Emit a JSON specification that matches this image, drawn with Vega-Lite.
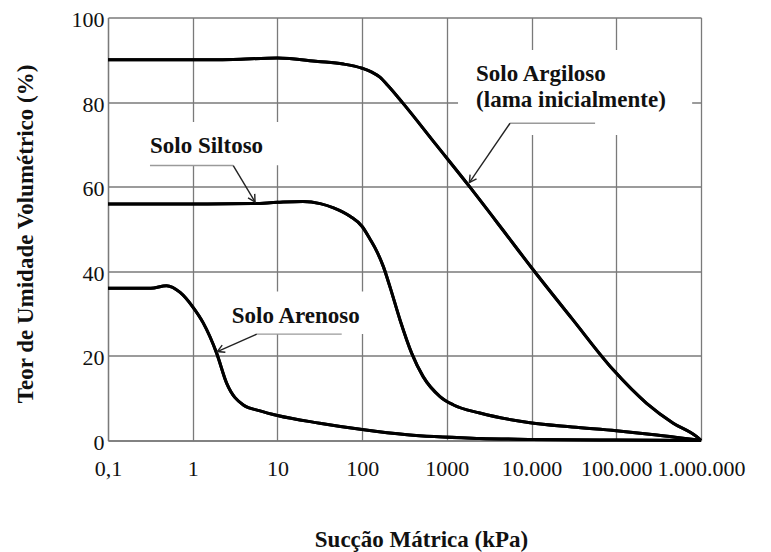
{
  "$schema": "https://vega.github.io/schema/vega-lite/v6.json",
  "autosize": {"type": "none"},
  "padding": {"left": 108, "top": 17.5, "right": 70, "bottom": 111.5},
  "width": 593,
  "height": 423,
  "background": "white",
  "config": {
    "view": {"stroke": null},
    "axis": {
      "labelFont": "Liberation Serif",
      "titleFont": "Liberation Serif",
      "labelColor": "#111",
      "titleColor": "#111",
      "labelFontSize": 22,
      "titleFontSize": 23,
      "titleFontWeight": "bold",
      "gridColor": "#7a7a7a",
      "gridWidth": 1.3,
      "gridOpacity": 1,
      "domainColor": "#7a7a7a",
      "domainWidth": 1.3,
      "ticks": false,
      "tickSize": 0
    }
  },
  "datasets": {
    "curves": [
      {"solo": "Argiloso", "s": 0.1, "t": 90},
      {"solo": "Argiloso", "s": 1, "t": 90},
      {"solo": "Argiloso", "s": 3, "t": 90.1},
      {"solo": "Argiloso", "s": 10, "t": 90.4},
      {"solo": "Argiloso", "s": 30, "t": 89.6},
      {"solo": "Argiloso", "s": 60, "t": 89.0},
      {"solo": "Argiloso", "s": 100, "t": 88.0},
      {"solo": "Argiloso", "s": 130, "t": 87.1},
      {"solo": "Argiloso", "s": 162, "t": 85.9},
      {"solo": "Argiloso", "s": 200, "t": 84.0},
      {"solo": "Argiloso", "s": 296, "t": 80.0},
      {"solo": "Argiloso", "s": 741, "t": 70.0},
      {"solo": "Argiloso", "s": 1853, "t": 60.0},
      {"solo": "Argiloso", "s": 4490, "t": 50.0},
      {"solo": "Argiloso", "s": 10500, "t": 40.3},
      {"solo": "Argiloso", "s": 30000, "t": 28.8},
      {"solo": "Argiloso", "s": 92000, "t": 16.7},
      {"solo": "Argiloso", "s": 228000, "t": 8.8},
      {"solo": "Argiloso", "s": 470000, "t": 4.1},
      {"solo": "Argiloso", "s": 890000, "t": 0.9},
      {"solo": "Argiloso", "s": 1000000, "t": 0},
      {"solo": "Siltoso", "s": 0.1, "t": 55.9},
      {"solo": "Siltoso", "s": 1, "t": 55.9},
      {"solo": "Siltoso", "s": 5, "t": 56.0},
      {"solo": "Siltoso", "s": 10, "t": 56.3},
      {"solo": "Siltoso", "s": 20, "t": 56.5},
      {"solo": "Siltoso", "s": 32, "t": 56.0},
      {"solo": "Siltoso", "s": 46, "t": 55.0},
      {"solo": "Siltoso", "s": 72, "t": 53.0},
      {"solo": "Siltoso", "s": 100, "t": 50.6},
      {"solo": "Siltoso", "s": 124, "t": 47.6},
      {"solo": "Siltoso", "s": 150, "t": 44.6},
      {"solo": "Siltoso", "s": 178, "t": 41.1},
      {"solo": "Siltoso", "s": 214, "t": 36.2},
      {"solo": "Siltoso", "s": 280, "t": 28.5},
      {"solo": "Siltoso", "s": 385, "t": 20.6},
      {"solo": "Siltoso", "s": 525, "t": 15.1},
      {"solo": "Siltoso", "s": 830, "t": 10.4},
      {"solo": "Siltoso", "s": 1200, "t": 8.4},
      {"solo": "Siltoso", "s": 2450, "t": 6.5},
      {"solo": "Siltoso", "s": 9600, "t": 4.2},
      {"solo": "Siltoso", "s": 30000, "t": 3.2},
      {"solo": "Siltoso", "s": 100000, "t": 2.3},
      {"solo": "Siltoso", "s": 300000, "t": 1.3},
      {"solo": "Siltoso", "s": 1000000, "t": 0},
      {"solo": "Arenoso", "s": 0.1, "t": 36.0},
      {"solo": "Arenoso", "s": 0.32, "t": 36.0},
      {"solo": "Arenoso", "s": 0.49, "t": 36.6},
      {"solo": "Arenoso", "s": 0.71, "t": 35.0},
      {"solo": "Arenoso", "s": 1, "t": 31.6},
      {"solo": "Arenoso", "s": 1.33, "t": 27.8},
      {"solo": "Arenoso", "s": 1.92, "t": 20.6},
      {"solo": "Arenoso", "s": 2.52, "t": 13.5},
      {"solo": "Arenoso", "s": 3.96, "t": 8.4},
      {"solo": "Arenoso", "s": 6.24, "t": 7.0},
      {"solo": "Arenoso", "s": 10, "t": 5.9},
      {"solo": "Arenoso", "s": 31.6, "t": 4.1},
      {"solo": "Arenoso", "s": 100, "t": 2.6},
      {"solo": "Arenoso", "s": 340, "t": 1.35},
      {"solo": "Arenoso", "s": 2450, "t": 0.5},
      {"solo": "Arenoso", "s": 10000, "t": 0.25},
      {"solo": "Arenoso", "s": 100000, "t": 0.1},
      {"solo": "Arenoso", "s": 1000000, "t": 0}
    ],
    "boxes": [
      {"solo": "Siltoso", "s": 0.273, "s2": 12.3, "t": 75.3, "t2": 65.1},
      {"solo": "Argiloso", "s": 1355, "s2": 786000, "t": 92.3, "t2": 72.2},
      {"solo": "Arenoso", "s": 2.4, "s2": 131, "t": 35.2, "t2": 25.2}
    ],
    "leaders": [
      {"solo": "Siltoso", "s": 0.313, "s2": 3.01, "t": 65.0, "t2": 65.0},
      {"solo": "Arenoso", "s": 5.7, "s2": 57.4, "t": 25.14, "t2": 25.14},
      {"solo": "Argiloso", "s": 5570, "s2": 56200, "t": 75.0, "t2": 75.0}
    ],
    "pointers": [
      {"solo": "Siltoso", "s": 3.01, "t": 65.0, "s2": 5.44, "t2": 56.4},
      {"solo": "Arenoso", "s": 5.7, "t": 25.14, "s2": 1.952, "t2": 21.03},
      {"solo": "Argiloso", "s": 5570, "t": 75.0, "s2": 1843, "t2": 60.96}
    ],
    "labels": [
      {"label": "Solo Siltoso", "s": 0.313, "t": 67.9},
      {"label": "Solo Arenoso", "s": 2.887, "t": 27.74},
      {"label": "Solo Argiloso", "s": 2213, "t": 85.0},
      {"label": "(lama inicialmente)", "s": 2213, "t": 78.8}
    ]
  },
  "layer": [
    {
      "data": {"name": "curves"},
      "mark": {"type": "line", "color": "#000", "strokeWidth": 3, "interpolate": "monotone"},
      "encoding": {
        "x": {
          "field": "s", "type": "quantitative",
          "scale": {"type": "log", "domain": [0.1, 1000000], "nice": false},
          "axis": {
            "title": "Sucção Mátrica (kPa)",
            "values": [0.1, 1, 10, 100, 1000, 10000, 100000, 1000000],
            "labelExpr": "datum.value < 0.5 ? '0,1' : datum.value > 500000 ? '1.000.000' : datum.value > 50000 ? '100.000' : datum.value > 5000 ? '10.000' : format(datum.value, 'd')",
            "labelBaseline": "alphabetic",
            "labelPadding": 35,
            "labelFlush": false,
            "labelOverlap": false,
            "titleX": 313,
            "titleY": 106,
            "titleBaseline": "alphabetic",
            "titleAlign": "center",
            "titleAnchor": null
          }
        },
        "y": {
          "field": "t", "type": "quantitative",
          "scale": {"domain": [0, 100], "nice": false},
          "axis": {
            "title": "Teor de Umidade Volumétrico (%)",
            "values": [0, 20, 40, 60, 80, 100],
            "labelPadding": 4,
            "labelOffset": 2,
            "titleX": -83,
            "titleY": 216,
            "titleAngle": -90,
            "titleBaseline": "middle",
            "titleAlign": "center"
          }
        },
        "detail": {"field": "solo"}
      }
    },
    {
      "data": {"name": "boxes"},
      "mark": {"type": "rect", "color": "white", "opacity": 1},
      "encoding": {
        "x": {"field": "s", "type": "quantitative"},
        "x2": {"field": "s2"},
        "y": {"field": "t", "type": "quantitative"},
        "y2": {"field": "t2"}
      }
    },
    {
      "data": {"name": "curves"},
      "mark": {"type": "line", "color": "#000", "strokeWidth": 3, "interpolate": "monotone"},
      "encoding": {
        "x": {"field": "s", "type": "quantitative"},
        "y": {"field": "t", "type": "quantitative"},
        "detail": {"field": "solo"}
      }
    },
    {
      "data": {"name": "leaders"},
      "mark": {"type": "rule", "color": "#9a9a9a", "strokeWidth": 1.4},
      "encoding": {
        "x": {"field": "s", "type": "quantitative"},
        "x2": {"field": "s2"},
        "y": {"field": "t", "type": "quantitative"},
        "y2": {"field": "t2"}
      }
    },
    {
      "data": {"name": "pointers"},
      "mark": {"type": "rule", "color": "#222", "strokeWidth": 1.4},
      "encoding": {
        "x": {"field": "s", "type": "quantitative"},
        "x2": {"field": "s2"},
        "y": {"field": "t", "type": "quantitative"},
        "y2": {"field": "t2"}
      }
    },
    {
      "data": {"name": "pointers"},
      "transform": [{"filter": "datum.solo == 'Siltoso'"}],
      "mark": {"type": "point", "shape": "M-1,-0.55L0,0L-1,0.55", "filled": false, "stroke": "#222", "strokeWidth": 1.4, "size": 200, "angle": 59, "opacity": 1},
      "encoding": {
        "x": {"field": "s2", "type": "quantitative"},
        "y": {"field": "t2", "type": "quantitative"}
      }
    },
    {
      "data": {"name": "pointers"},
      "transform": [{"filter": "datum.solo == 'Arenoso'"}],
      "mark": {"type": "point", "shape": "M-1,-0.55L0,0L-1,0.55", "filled": false, "stroke": "#222", "strokeWidth": 1.4, "size": 200, "angle": 156, "opacity": 1},
      "encoding": {
        "x": {"field": "s2", "type": "quantitative"},
        "y": {"field": "t2", "type": "quantitative"}
      }
    },
    {
      "data": {"name": "pointers"},
      "transform": [{"filter": "datum.solo == 'Argiloso'"}],
      "mark": {"type": "point", "shape": "M-1,-0.55L0,0L-1,0.55", "filled": false, "stroke": "#222", "strokeWidth": 1.4, "size": 200, "angle": 124, "opacity": 1},
      "encoding": {
        "x": {"field": "s2", "type": "quantitative"},
        "y": {"field": "t2", "type": "quantitative"}
      }
    },
    {
      "data": {"name": "labels"},
      "mark": {"type": "text", "font": "Liberation Serif", "fontWeight": "bold", "fontSize": 23, "align": "left", "baseline": "alphabetic", "color": "#111"},
      "encoding": {
        "x": {"field": "s", "type": "quantitative"},
        "y": {"field": "t", "type": "quantitative"},
        "text": {"field": "label"}
      }
    }
  ]
}
